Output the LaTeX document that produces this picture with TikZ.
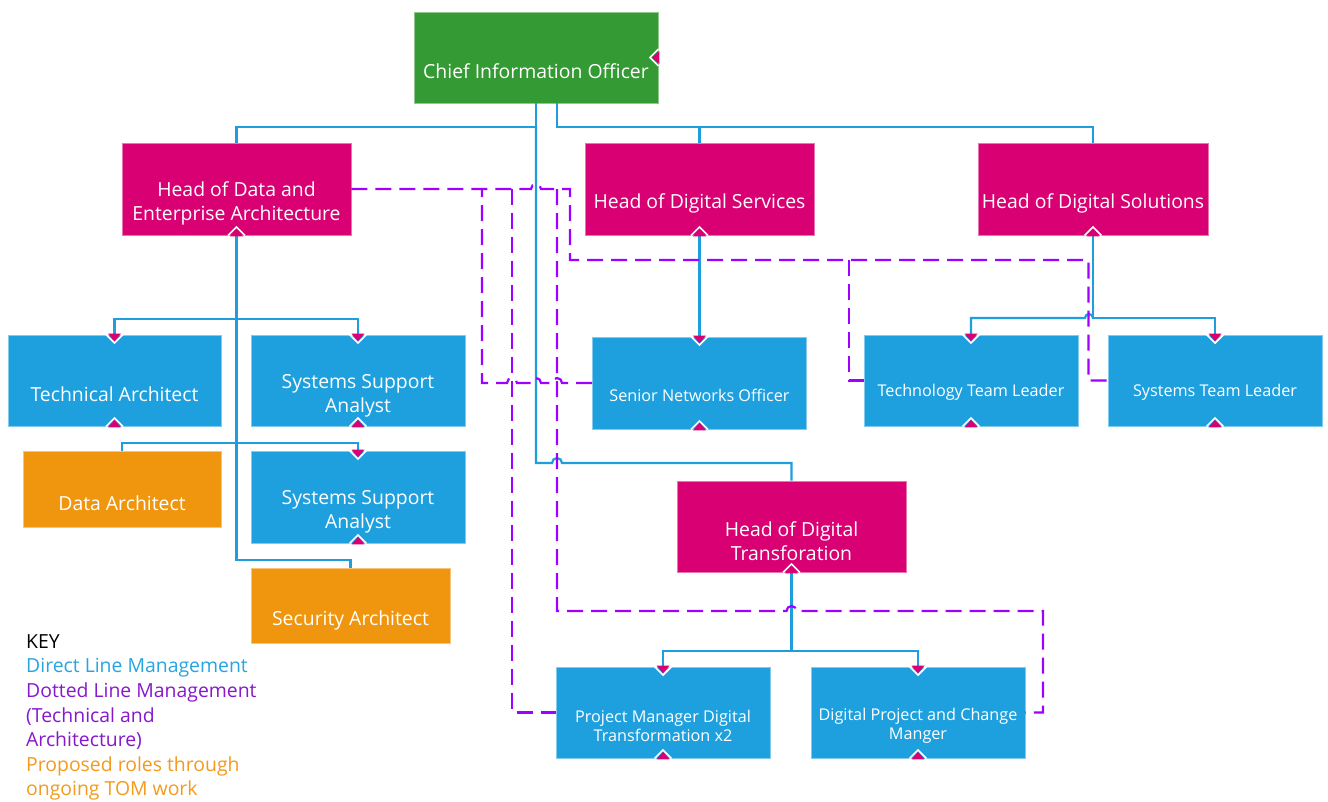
\documentclass[tikz,border=0pt]{standalone}
\usepackage{fontspec}
\setmainfont{Open Sans}
\usetikzlibrary{calc}
\definecolor{cgreen}{RGB}{52,154,52}
\definecolor{cmag}{RGB}{216,0,115}
\definecolor{cblue}{RGB}{30,160,223}
\definecolor{corange}{RGB}{240,150,14}
\definecolor{cline}{RGB}{30,158,220}
\definecolor{cdash}{RGB}{160,0,255}
\definecolor{kpurple}{RGB}{135,25,205}
\definecolor{korange}{RGB}{242,155,30}
\definecolor{kblue}{RGB}{40,165,225}
\begin{document}
\begin{tikzpicture}[x=1pt,y=-1pt,
  box/.style={rectangle, inner sep=0pt, line width=0.8pt},
  gbox/.style={box, fill=cgreen, draw=cgreen!55!white},
  mbox/.style={box, fill=cmag, draw=cmag!55!white},
  bbox/.style={box, fill=cblue, draw=cblue!55!white},
  obox/.style={box, fill=corange, draw=corange!55!white},
  bt/.style={text=white, align=center, inner sep=0pt, font=\fontsize{19.4}{24}\selectfont},
  st/.style={text=white, align=center, inner sep=0pt, font=\fontsize{16.2}{19}\selectfont},
  dl/.style={draw=cline, line width=2.2pt},
  dsh/.style={draw=cdash, line width=2.2pt, dash pattern=on 16pt off 8pt},
  keyt/.style={anchor=base west, inner sep=0pt, font=\fontsize{19.4}{24}\selectfont},
  mkdown/.pic={\draw[white,line width=1.6pt] (-8.5,0)--(0,8.5)--(8.5,0); \fill[cmag] (-6.5,-1)--(0,6.5)--(6.5,-1)--cycle;},
  mkup/.pic={\draw[white,line width=1.6pt] (-8.5,0)--(0,-8.5)--(8.5,0); \fill[cmag] (-6.5,1)--(0,-6.5)--(6.5,1)--cycle;},
  mkleft/.pic={\draw[white,line width=1.6pt] (0,-8.5)--(-8.5,0)--(0,8.5); \fill[cmag] (1,-6.5)--(-6.5,0)--(1,6.5)--cycle;}
]
\useasboundingbox (0,0) rectangle (1328,801);
\fill[white] (0,0) rectangle (1328,801);

% boxes
\node[gbox, minimum width=244pt, minimum height=91pt] (cio) at (536,57.5) {};
\node[mbox, minimum width=229pt, minimum height=92pt] (hdea) at (236.5,189) {};
\node[mbox, minimum width=229pt, minimum height=92pt] (hds) at (699.5,189) {};
\node[mbox, minimum width=230pt, minimum height=92pt] (hdsol) at (1093,189) {};
\node[bbox, minimum width=213pt, minimum height=91pt] (ta) at (114.5,380.5) {};
\node[bbox, minimum width=214pt, minimum height=91pt] (ssa1) at (358,380.5) {};
\node[obox, minimum width=198pt, minimum height=76pt] (da) at (122,489) {};
\node[bbox, minimum width=214pt, minimum height=92pt] (ssa2) at (358,497) {};
\node[obox, minimum width=199pt, minimum height=75pt] (sa) at (350.5,605.5) {};
\node[bbox, minimum width=214pt, minimum height=92pt] (sno) at (699.5,383) {};
\node[bbox, minimum width=214pt, minimum height=91pt] (ttl) at (971,380.5) {};
\node[bbox, minimum width=214pt, minimum height=91pt] (stl) at (1215,380.5) {};
\node[mbox, minimum width=229pt, minimum height=91pt] (hdt) at (791.5,526.5) {};
\node[bbox, minimum width=214pt, minimum height=91pt] (pm) at (663,712.5) {};
\node[bbox, minimum width=214pt, minimum height=91pt] (dpcm) at (918,712.5) {};

% texts
\node[bt] (cio-t) at ($(cio.center)+(0,14)$) {Chief Information Officer};
\node[bt] (hdea-t) at ($(hdea.center)+(0,14.5)$) {Head of Data and\\Enterprise Architecture};
\node[bt] (hds-t) at ($(hds.center)+(0,14)$) {Head of Digital Services};
\node[bt] (hdsol-t) at ($(hdsol.center)+(0,14)$) {Head of Digital Solutions};
\node[bt] (ta-t) at ($(ta.center)+(0,14)$) {Technical Architect};
\node[bt] (ssa1-t) at ($(ssa1.center)+(0,15)$) {Systems Support\\Analyst};
\node[bt] (da-t) at ($(da.center)+(0,14.5)$) {Data Architect};
\node[bt] (ssa2-t) at ($(ssa2.center)+(0,15)$) {Systems Support\\Analyst};
\node[bt] (sa-t) at ($(sa.center)+(0,15)$) {Security Architect};
\node[st] (sno-t) at ($(sno.center)+(0,12.5)$) {Senior Networks Officer};
\node[st] (ttl-t) at ($(ttl.center)+(0,12)$) {Technology Team Leader};
\node[st] (stl-t) at ($(stl.center)+(0,12)$) {Systems Team Leader};
\node[bt] (hdt-t) at ($(hdt.center)+(0,14.5)$) {Head of Digital\\Transforation};
\node[st] (pm-t) at ($(pm.center)+(0,13.5)$) {Project Manager Digital\\Transformation x2};
\node[st] (dpcm-t) at ($(dpcm.center)+(0,13.5)$) {Digital Project and Change\\Manger};

% junction coordinates
\coordinate (c2) at ([xshift=21pt]cio.south);
\coordinate (j1) at (cio.south |- 0,127);
\coordinate (j2) at (c2 |- 0,127);
\coordinate (j3) at (hdea.south |- 0,319);
\coordinate (j4) at (hdea.south |- 0,443);
\coordinate (j5) at (hdsol.south |- 0,318);
\coordinate (j6) at (hdt.south |- 0,651);
\coordinate (d1) at (482,189);
\coordinate (d2) at (512,189);
\coordinate (d3) at (557,189);
\coordinate (d4) at (849,260);

% direct lines
\draw[dl] (cio.south) -- (j1) -| (hdea.north);
\draw[dl] (j1) -- (cio.south |- 0,463) -- (552,463) arc[start angle=180,end angle=360,radius=5] -- (hdt.north |- 0,463) -- (hdt.north);
\draw[dl] (c2) -- (j2) -| (hds.north);
\draw[dl] (j2) -| (hdsol.north);
\draw[dl] (hdea.south) -- (hdea.south |- 0,560) -| (sa.north);
\draw[dl] (j3) -| (ta.north);
\draw[dl] (j3) -| (ssa1.north);
\draw[dl] (j4) -| (da.north);
\draw[dl] (j4) -| (ssa2.north);
\draw[dl] (hds.south) -- (sno.north);
\draw[dl] (hdsol.south) -- (j5) -| (stl.north);
\draw[dl] (j5) arc[start angle=0,end angle=-180,radius=4] -- (ttl.north |- 0,318) -- (ttl.north);
\draw[dl] (hdt.south) -- (j6) -| (pm.north);
\draw[dl] (j6) -| (dpcm.north);

% dotted line management
\draw[dsh] (hdea.east) -- (531,189) arc[start angle=180,end angle=360,radius=5] -- (570,189) -- (570,260) -- (1088.5,260) |- (stl.west);
\draw[dsh] (d4) |- (ttl.west);
\draw[dsh] (sno.west) -- (562,383) arc[start angle=0,end angle=-180,radius=5] -- (541,383) arc[start angle=0,end angle=-180,radius=5] -- (517,383) arc[start angle=0,end angle=-180,radius=5] -- (482,383) -- (d1);
\draw[dsh] (d2) |- (pm.west);
\draw[dsh] (d3) -- (557,611) -- (786.5,611) arc[start angle=180,end angle=360,radius=5] -- (1043,611) |- (dpcm.east);

% markers
\pic at (cio.east) {mkleft};
\foreach \n in {hdea,hds,hdsol,ta,ssa1,ssa2,sno,ttl,stl,hdt,pm,dpcm} {\pic at (\n.south) {mkup};}
\foreach \n in {ta,ssa1,ssa2,sno,ttl,stl,pm,dpcm} {\pic at (\n.north) {mkdown};}

% key
\node[keyt, text=black] (k1) at (26,648) {KEY};
\node[keyt, text=kblue] (k2) at (26,672.5) {Direct Line Management};
\node[keyt, text=kpurple] (k3) at (26,697.5) {Dotted Line Management};
\node[keyt, text=kpurple] (k4) at (26,722) {(Technical and};
\node[keyt, text=kpurple] (k5) at (26,746.5) {Architecture)};
\node[keyt, text=korange] (k6) at (26,771.5) {Proposed roles through};
\node[keyt, text=korange] (k7) at (26,795.5) {ongoing TOM work};
\end{tikzpicture}
\end{document}
